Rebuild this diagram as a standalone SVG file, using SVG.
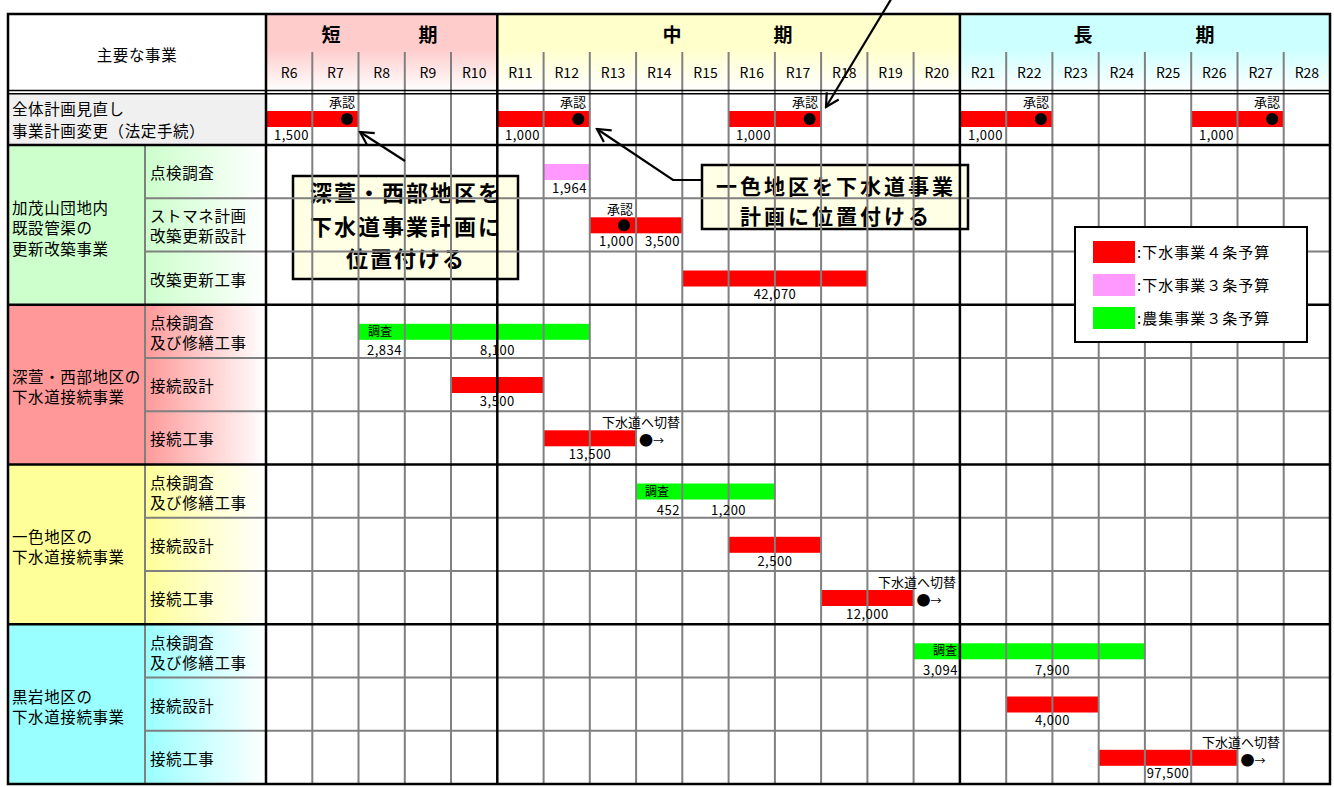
<svg xmlns="http://www.w3.org/2000/svg" width="1334" height="787" viewBox="0 0 1334 787">
<defs>
<linearGradient id="gShort" x1="0" y1="0" x2="0" y2="1"><stop offset="0" stop-color="#FFCCCC"/><stop offset="0.45" stop-color="#FFCCCC"/><stop offset="1" stop-color="#FFFFFF"/></linearGradient>
<linearGradient id="gMid" x1="0" y1="0" x2="0" y2="1"><stop offset="0" stop-color="#FFFFCC"/><stop offset="0.45" stop-color="#FFFFCC"/><stop offset="1" stop-color="#FFFFFF"/></linearGradient>
<linearGradient id="gLong" x1="0" y1="0" x2="0" y2="1"><stop offset="0" stop-color="#CCFFFF"/><stop offset="0.45" stop-color="#CCFFFF"/><stop offset="1" stop-color="#FFFFFF"/></linearGradient>
<linearGradient id="sub1" x1="0" y1="0" x2="1" y2="0"><stop offset="0" stop-color="#CCFFCC"/><stop offset="1" stop-color="#FFFFFF"/></linearGradient>
<linearGradient id="sub2" x1="0" y1="0" x2="1" y2="0"><stop offset="0" stop-color="#FF9999"/><stop offset="1" stop-color="#FFFFFF"/></linearGradient>
<linearGradient id="sub3" x1="0" y1="0" x2="1" y2="0"><stop offset="0" stop-color="#FFFF99"/><stop offset="1" stop-color="#FFFFFF"/></linearGradient>
<linearGradient id="sub4" x1="0" y1="0" x2="1" y2="0"><stop offset="0" stop-color="#99FFFF"/><stop offset="1" stop-color="#FFFFFF"/></linearGradient>
<marker id="arr" markerUnits="userSpaceOnUse" markerWidth="18" markerHeight="18" viewBox="0 0 18 18" refX="16" refY="9" orient="auto"><path d="M3,2 L16,9 L3,16" fill="none" stroke="#000" stroke-width="2.2"/></marker>
</defs>
<style>
text{font-family:'Noto Sans CJK JP','Noto Sans CJK SC',sans-serif;fill:#000}
.lbl{font-size:15.5px;letter-spacing:0.6px}
.yr{font-size:14px;text-anchor:middle}
.per{font-size:19px;font-weight:bold;text-anchor:middle}
.num{font-size:13px;letter-spacing:0.5px}
.e{text-anchor:end}
.m{text-anchor:middle}
.sm{font-size:13px}
.cs{font-size:12px}
.red{fill:#FF0000}
.pink{fill:#FF99FF}
.grn{fill:#00FF00}
.gl{stroke:#808080;stroke-width:2;fill:none}
.bl{stroke:#000;stroke-width:2.5;fill:none}
.co{fill:#FFFFE6;stroke:#000;stroke-width:2.5}
.cot{font-size:22px;font-weight:bold;text-anchor:middle;letter-spacing:2px}
.cot2{font-size:21px;font-weight:bold;text-anchor:middle;letter-spacing:3px}
.leg{font-size:15px;letter-spacing:1px}
.arrow{fill:none;stroke:#000;stroke-width:2.2;marker-end:url(#arr)}
.sw{font-size:14px}
</style>
<rect x="0" y="0" width="1334" height="787" fill="#fff"/>

<g id="header">
<rect x="8" y="14" width="258" height="78" fill="#fff"/>
<text class="lbl m" x="137" y="61">主要な事業</text>
<rect x="266" y="14" width="231.3" height="77" fill="url(#gShort)"/>
<rect x="497.3" y="14" width="462.6" height="77" fill="url(#gMid)"/>
<rect x="959.9" y="14" width="370.1" height="77" fill="url(#gLong)"/>
<text class="per"><tspan x="331" y="42">短</tspan><tspan x="428" y="42">期</tspan></text>
<text class="per"><tspan x="672" y="42">中</tspan><tspan x="783" y="42">期</tspan></text>
<text class="per"><tspan x="1083" y="42">長</tspan><tspan x="1205" y="42">期</tspan></text>
<text class="yr" x="289.1" y="78">R6</text>
<text class="yr" x="335.4" y="78">R7</text>
<text class="yr" x="381.7" y="78">R8</text>
<text class="yr" x="427.9" y="78">R9</text>
<text class="yr" x="474.2" y="78">R10</text>
<text class="yr" x="520.4" y="78">R11</text>
<text class="yr" x="566.7" y="78">R12</text>
<text class="yr" x="613" y="78">R13</text>
<text class="yr" x="659.2" y="78">R14</text>
<text class="yr" x="705.5" y="78">R15</text>
<text class="yr" x="751.7" y="78">R16</text>
<text class="yr" x="798" y="78">R17</text>
<text class="yr" x="844.3" y="78">R18</text>
<text class="yr" x="890.5" y="78">R19</text>
<text class="yr" x="936.8" y="78">R20</text>
<text class="yr" x="983" y="78">R21</text>
<text class="yr" x="1029.3" y="78">R22</text>
<text class="yr" x="1075.6" y="78">R23</text>
<text class="yr" x="1121.8" y="78">R24</text>
<text class="yr" x="1168.1" y="78">R25</text>
<text class="yr" x="1214.3" y="78">R26</text>
<text class="yr" x="1260.6" y="78">R27</text>
<text class="yr" x="1306.9" y="78">R28</text>
</g>

<g id="left-cells">
<rect x="8" y="93" width="258" height="52" fill="#F0F0F0"/>
<rect x="8" y="145" width="137" height="160" fill="#CCFFCC"/>
<rect x="145" y="145" width="121" height="160" fill="url(#sub1)"/>
<rect x="8" y="304.8" width="137" height="160" fill="#FF9999"/>
<rect x="145" y="304.8" width="121" height="160" fill="url(#sub2)"/>
<rect x="8" y="464.5" width="137" height="160" fill="#FFFF99"/>
<rect x="145" y="464.5" width="121" height="160" fill="url(#sub3)"/>
<rect x="8" y="624.3" width="137" height="160" fill="#99FFFF"/>
<rect x="145" y="624.3" width="121" height="160" fill="url(#sub4)"/>
</g>

<g id="bars">
<rect class="red" x="266" y="111" width="92.5" height="16"/>
<rect class="red" x="497.3" y="111" width="92.5" height="16"/>
<rect class="red" x="728.6" y="111" width="92.5" height="16"/>
<rect class="red" x="959.9" y="111" width="92.5" height="16"/>
<rect class="red" x="1191.2" y="111" width="92.5" height="16"/>
<rect class="pink" x="543.6" y="164" width="46.2" height="16"/>
<rect class="red" x="589.8" y="217.3" width="92.5" height="16"/>
<rect class="red" x="682.3" y="270.5" width="185.1" height="16"/>
<rect class="grn" x="358.5" y="323.8" width="231.3" height="16"/>
<rect class="red" x="451" y="377" width="92.6" height="16"/>
<rect class="red" x="543.6" y="430.3" width="92.5" height="16"/>
<rect class="grn" x="636.1" y="483.5" width="138.8" height="16"/>
<rect class="red" x="728.6" y="536.8" width="92.5" height="16"/>
<rect class="red" x="821.1" y="590" width="92.5" height="16"/>
<rect class="grn" x="913.6" y="643.3" width="231.3" height="16"/>
<rect class="red" x="1006.2" y="696.5" width="92.5" height="16"/>
<rect class="red" x="1098.7" y="749.8" width="138.8" height="16"/>
</g>

<g id="callout-fukasou">
<rect class="co" x="293" y="176" width="225" height="103"/>
<text class="cot" x="406" y="201">深萱・西部地区を</text>
<text class="cot" x="406" y="235">下水道事業計画に</text>
<text class="cot" x="406" y="267">位置付ける</text>
</g>
<g id="callout-isshiki">
<rect class="co" x="702" y="165" width="266" height="64"/>
<text class="cot2" x="836" y="193.5">一色地区を下水道事業</text>
<text class="cot2" x="836" y="224">計画に位置付ける</text>
</g>

<g id="grid">
<path class="gl" d="M312.3,52V784M358.5,52V784M404.8,52V784M451,52V784M543.6,52V784M589.8,52V784M636.1,52V784M682.3,52V784M728.6,52V784M774.9,52V784M821.1,52V784M867.4,52V784M913.6,52V784M1006.2,52V784M1052.4,52V784M1098.7,52V784M1144.9,52V784M1191.2,52V784M1237.5,52V784M1283.7,52V784"/>
<path class="gl" d="M145,198.3H1330M145,251.5H1330M145,358H1330M145,411.3H1330M145,517.8H1330M145,571H1330M145,677.5H1330M145,730.8H1330M145,145V784"/>
<path class="bl" d="M8,145H1330M8,304.8H1330M8,464.5H1330M8,624.3H1330M266,14V784M497.3,14V784M959.9,14V784"/>
<path d="M8,90.5H1330M8,93.8H1330" stroke="#000" stroke-width="1.6"/>
<rect class="bl" x="8" y="14" width="1322" height="770"/>
</g>

<g id="row-plan">
<text class="lbl" x="12" y="115">全体計画見直し</text>
<text class="lbl" x="12" y="137">事業計画変更（法定手続）</text>
<text class="sm e" x="355" y="107">承認</text>
<text class="sm e" x="586" y="107">承認</text>
<text class="sm e" x="818" y="107">承認</text>
<text class="sm e" x="1049" y="107">承認</text>
<text class="sm e" x="1280" y="107">承認</text>
<circle cx="347" cy="119" r="6"/>
<circle cx="578.3" cy="119" r="6"/>
<circle cx="809.6" cy="119" r="6"/>
<circle cx="1040.9" cy="119" r="6"/>
<circle cx="1272.2" cy="119" r="6"/>
<text class="num e" x="309" y="140">1,500</text>
<text class="num e" x="540" y="140">1,000</text>
<text class="num e" x="771" y="140">1,000</text>
<text class="num e" x="1003" y="140">1,000</text>
<text class="num e" x="1234" y="140">1,000</text>
</g>

<g id="sec-kamoyama">
<text class="lbl" x="12" y="214">加茂山団地内</text>
<text class="lbl" x="12" y="234">既設管渠の</text>
<text class="lbl" x="12" y="255">更新改築事業</text>
<text class="lbl" x="150" y="179">点検調査</text>
<text class="lbl" x="150" y="222">ストマネ計画</text>
<text class="lbl" x="150" y="242">改築更新設計</text>
<text class="lbl" x="150" y="285.7">改築更新工事</text>
<text class="num e" x="587" y="193">1,964</text>
<text class="sm e" x="633" y="214">承認</text>
<circle cx="624" cy="225.3" r="6"/>
<text class="num e" x="634" y="246">1,000</text>
<text class="num e" x="680" y="246">3,500</text>
<text class="num m" x="775" y="299">42,070</text>
</g>

<g id="sec-fukasou">
<text class="lbl" x="12" y="383">深萱・西部地区の</text>
<text class="lbl" x="12" y="403">下水道接続事業</text>
<text class="lbl" x="150" y="329">点検調査</text>
<text class="lbl" x="150" y="349">及び修繕工事</text>
<text class="lbl" x="150" y="392">接続設計</text>
<text class="lbl" x="150" y="445.4">接続工事</text>
<text class="cs" x="368" y="335.5">調査</text>
<text class="num e" x="402" y="355">2,834</text>
<text class="num m" x="497.5" y="355">8,100</text>
<text class="num m" x="497.3" y="406">3,500</text>
<text class="sm e" x="680" y="426.5">下水道へ切替</text>
<text class="sw" x="639" y="445"><tspan>●</tspan><tspan font-size="11">→</tspan></text>
<text class="num m" x="590" y="459">13,500</text>
</g>

<g id="sec-isshiki">
<text class="lbl" x="12" y="543">一色地区の</text>
<text class="lbl" x="12" y="563">下水道接続事業</text>
<text class="lbl" x="150" y="488.8">点検調査</text>
<text class="lbl" x="150" y="508.8">及び修繕工事</text>
<text class="lbl" x="150" y="552">接続設計</text>
<text class="lbl" x="150" y="605">接続工事</text>
<text class="cs" x="645" y="495.5">調査</text>
<text class="num e" x="680" y="515">452</text>
<text class="num m" x="728.6" y="515">1,200</text>
<text class="num m" x="774.9" y="566">2,500</text>
<text class="sm e" x="956" y="586.5">下水道へ切替</text>
<text class="sw" x="916.5" y="604.5"><tspan>●</tspan><tspan font-size="11">→</tspan></text>
<text class="num m" x="867.4" y="619">12,000</text>
</g>

<g id="sec-kuroiwa">
<text class="lbl" x="12" y="703">黒岩地区の</text>
<text class="lbl" x="12" y="723">下水道接続事業</text>
<text class="lbl" x="150" y="648.5">点検調査</text>
<text class="lbl" x="150" y="668.5">及び修繕工事</text>
<text class="lbl" x="150" y="711.7">接続設計</text>
<text class="lbl" x="150" y="765">接続工事</text>
<text class="cs e" x="957" y="655">調査</text>
<text class="num e" x="958" y="674.5">3,094</text>
<text class="num m" x="1052.4" y="674.5">7,900</text>
<text class="num m" x="1052.4" y="725">4,000</text>
<text class="sm e" x="1280" y="746.5">下水道へ切替</text>
<text class="sw" x="1240.5" y="764.5"><tspan>●</tspan><tspan font-size="11">→</tspan></text>
<text class="num m" x="1168" y="778">97,500</text>
</g>

<g id="connectors">
<path class="arrow" d="M405,161 L360,132"/>
<path class="arrow" d="M702,180 L673,180 L597,129"/>
<path class="arrow" d="M893,-4 L826,107"/>
</g>

<g id="legend">
<rect x="1075" y="227" width="232" height="115" fill="#fff" stroke="#000" stroke-width="2"/>
<rect class="red" x="1093" y="241" width="42" height="22"/>
<rect class="pink" x="1093" y="274" width="42" height="22"/>
<rect class="grn" x="1093" y="307" width="42" height="22"/>
<text class="leg" x="1137" y="258">:下水事業４条予算</text>
<text class="leg" x="1137" y="291">:下水事業３条予算</text>
<text class="leg" x="1137" y="324">:農集事業３条予算</text>
</g>
</svg>
